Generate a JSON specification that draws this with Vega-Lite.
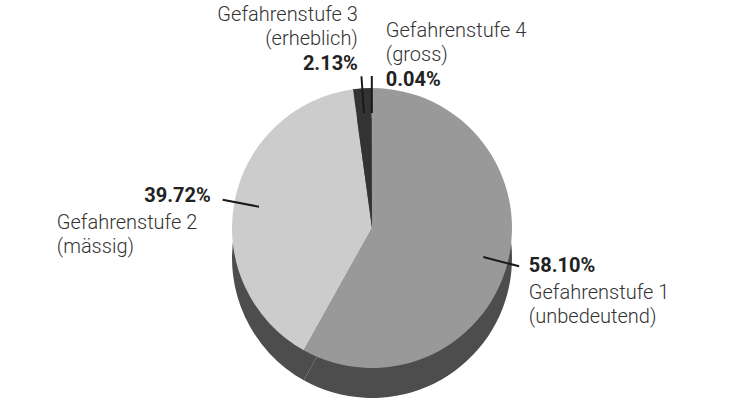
{
  "$schema": "https://vega.github.io/schema/vega-lite/v6.json",
  "width": 744,
  "height": 368,
  "autosize": {"type": "none"},
  "padding": {"top": 44, "left": 0, "right": 0, "bottom": 0},
  "background": "white",
  "config": {"view": {"stroke": null}, "text": {"font": "Roboto"}},
  "data": {"values": [
    {"stufe": 1, "name": "Gefahrenstufe 1", "desc": "(unbedeutend)", "value": 0.5810},
    {"stufe": 2, "name": "Gefahrenstufe 2", "desc": "(mässig)", "value": 0.3972},
    {"stufe": 3, "name": "Gefahrenstufe 3", "desc": "(erheblich)", "value": 0.0213},
    {"stufe": 4, "name": "Gefahrenstufe 4", "desc": "(gross)", "value": 0.0004}
  ]},
  "resolve": {"scale": {"theta": "independent"}},
  "layer": [
    {
      "mark": {"type": "arc", "outerRadius": 140, "yOffset": 30, "fill": "#4d4d4d"},
      "encoding": {
        "theta": {"field": "value", "type": "quantitative", "stack": true},
        "order": {"field": "stufe", "type": "quantitative"},
        "detail": {"field": "stufe", "type": "nominal"}
      }
    },
    {
      "mark": {"type": "arc", "outerRadius": 140},
      "encoding": {
        "theta": {"field": "value", "type": "quantitative", "stack": true},
        "order": {"field": "stufe", "type": "quantitative"},
        "color": {"field": "stufe", "type": "nominal", "legend": null,
          "scale": {"domain": [1, 2, 3, 4], "range": ["#999999", "#cccccc", "#333333", "#666666"]}}
      }
    },
    {
      "transform": [
        {"stack": "value", "groupby": [], "sort": [{"field": "stufe", "order": "ascending"}], "as": ["s0", "s1"]},
        {"fold": ["s0", "s1"], "as": ["edge", "pos"]},
        {"aggregate": [{"op": "mean", "field": "pos", "as": "mid"}], "groupby": ["stufe"]}
      ],
      "mark": {"type": "arc", "innerRadius": 115, "outerRadius": 152, "fill": null, "stroke": "#1a1a1a", "strokeWidth": 2},
      "encoding": {
        "theta": {"field": "mid", "type": "quantitative", "scale": {"domain": [0, 0.9999]}},
        "theta2": {"field": "mid"}
      }
    },
    {
      "mark": {"type": "text", "radius": 160, "fontSize": 20, "fontWeight": "bold", "fill": "#222222", "baseline": "middle",
        "align": {"expr": "datum.stufe == 1 || datum.stufe == 4 ? 'left' : 'right'"},
        "dx": {"expr": "datum.stufe == 1 ? 2 : datum.stufe == 2 ? -4 : datum.stufe == 3 ? -3 : 14"},
        "dy": {"expr": "datum.stufe == 1 ? -2 : datum.stufe == 2 ? -2 : datum.stufe == 3 ? -4 : 12"}
      },
      "encoding": {
        "theta": {"field": "value", "type": "quantitative", "stack": true},
        "order": {"field": "stufe", "type": "quantitative"},
        "detail": {"field": "stufe", "type": "nominal"},
        "text": {"field": "value", "type": "quantitative", "format": ".2%"}
      }
    },
    {
      "mark": {"type": "text", "radius": 160, "fontSize": 20, "fontWeight": 300, "fill": "#333333", "baseline": "middle",
        "align": {"expr": "datum.stufe == 3 ? 'right' : 'left'"},
        "dx": {"expr": "datum.stufe == 1 ? 2 : datum.stufe == 2 ? -158 : datum.stufe == 3 ? -3 : 14"},
        "dy": {"expr": "datum.stufe == 1 ? 25 : datum.stufe == 2 ? 25 : datum.stufe == 3 ? -53 : -37"}
      },
      "encoding": {
        "theta": {"field": "value", "type": "quantitative", "stack": true},
        "order": {"field": "stufe", "type": "quantitative"},
        "detail": {"field": "stufe", "type": "nominal"},
        "text": {"field": "name", "type": "nominal"}
      }
    },
    {
      "mark": {"type": "text", "radius": 160, "fontSize": 20, "fontWeight": 300, "fill": "#333333", "baseline": "middle",
        "align": {"expr": "datum.stufe == 3 ? 'right' : 'left'"},
        "dx": {"expr": "datum.stufe == 1 ? 2 : datum.stufe == 2 ? -158 : datum.stufe == 3 ? -3 : 14"},
        "dy": {"expr": "datum.stufe == 1 ? 49 : datum.stufe == 2 ? 49 : datum.stufe == 3 ? -29 : -13"}
      },
      "encoding": {
        "theta": {"field": "value", "type": "quantitative", "stack": true},
        "order": {"field": "stufe", "type": "quantitative"},
        "detail": {"field": "stufe", "type": "nominal"},
        "text": {"field": "desc", "type": "nominal"}
      }
    }
  ]
}
